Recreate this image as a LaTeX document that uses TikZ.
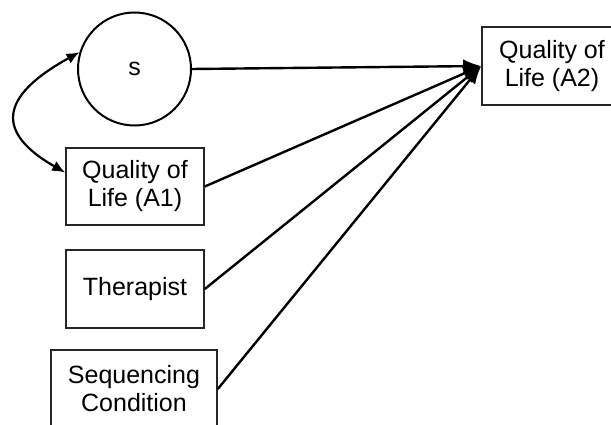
\documentclass[tikz,border=0pt]{standalone}
\usepackage{fontspec}
\setmainfont{Liberation Sans}
\usetikzlibrary{arrows.meta}
\begin{document}
\begin{tikzpicture}[x=1pt,y=-1pt,
  box/.style={draw=black!85,line width=1.6pt,rectangle,align=center,inner sep=0pt,font=\fontsize{25}{28}\selectfont},
  latent/.style={draw=black,line width=2pt,circle,inner sep=0pt,minimum size=113pt,font=\fontsize{25}{28}\selectfont},
  path/.style={line width=2.4pt,-{Latex[length=18pt,width=14pt]}},
  cov/.style={line width=2.2pt,{Latex[length=13pt,width=11pt]}-{Latex[length=13pt,width=11pt]}}]
\clip (0,0) rectangle (611,425);
\node[latent] (s) at (134.5,69) {s};
\node[box,minimum width=138pt,minimum height=77pt] (a1) at (135,186.5) {Quality of\\Life (A1)};
\node[box,minimum width=138pt,minimum height=78pt] (th) at (135,289) {Therapist};
\node[box,minimum width=166pt,minimum height=78pt] (sc) at (134,389) {Sequencing\\Condition};
\node[box,minimum width=140pt,minimum height=78pt] (a2) at (552,66) {Quality of\\Life (A2)};
\coordinate (tip) at (a2.west);
\draw[path] (s.east) -- (tip);
\draw[path] (a1.east) -- (tip);
\draw[path] (th.east) -- (tip);
\draw[path] (sc.east) -- (tip);
\coordinate (cs) at (s.163);
\coordinate (ca) at ([yshift=14pt]a1.west);
\draw[cov] (cs) .. controls (-2,97) and (-4,133) .. (ca);
\end{tikzpicture}
\end{document}
